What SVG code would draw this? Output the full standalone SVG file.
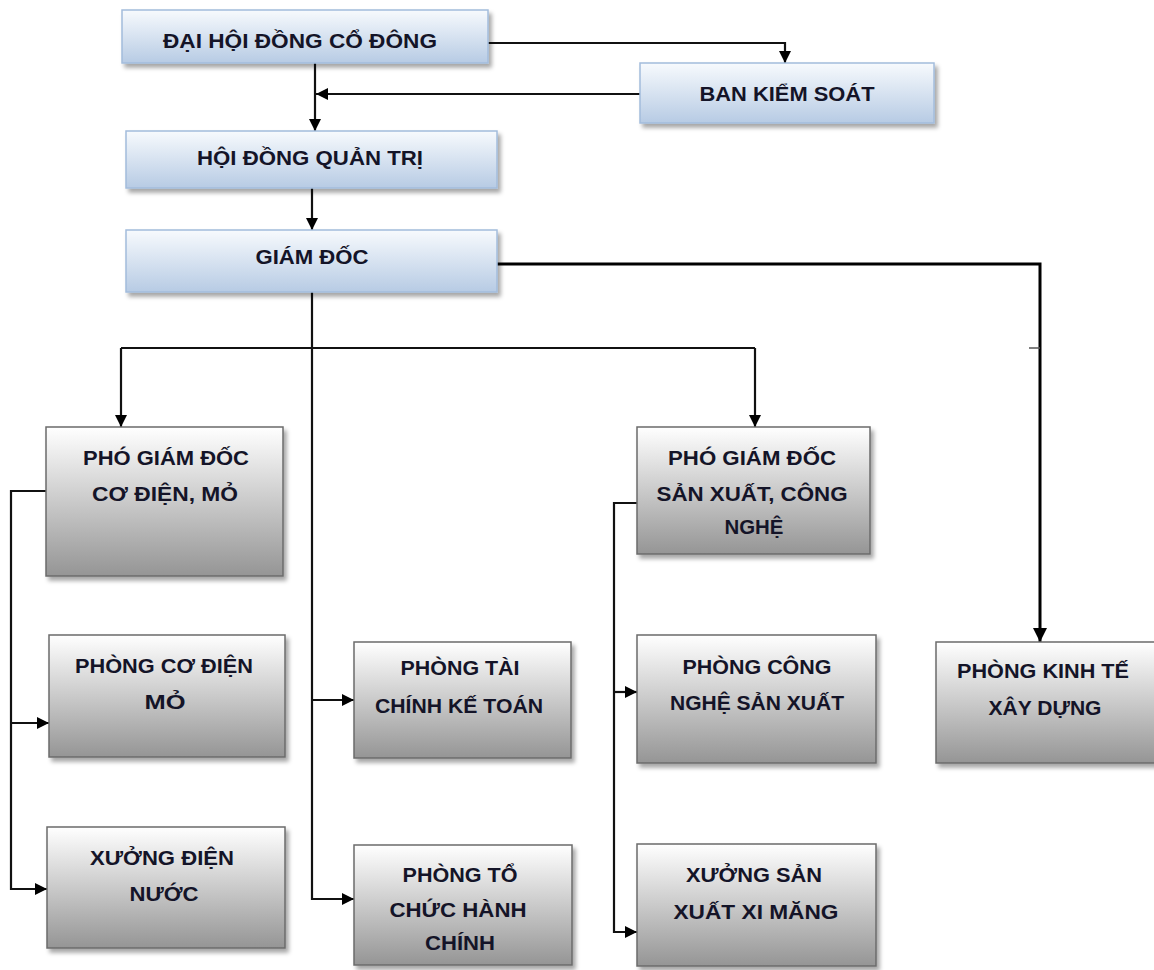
<svg xmlns="http://www.w3.org/2000/svg" width="1154" height="970" viewBox="0 0 1154 970">
<defs>
<linearGradient id="gBlue" x1="0" y1="0" x2="0" y2="1">
<stop offset="0" stop-color="#f7fafd"/>
<stop offset="1" stop-color="#b7cbe4"/>
</linearGradient>
<linearGradient id="gGray" x1="0" y1="0" x2="0" y2="1">
<stop offset="0" stop-color="#ffffff"/>
<stop offset="1" stop-color="#959595"/>
</linearGradient>
<filter id="sh" x="-10%" y="-10%" width="130%" height="140%">
<feDropShadow dx="3" dy="4" stdDeviation="2" flood-color="#000" flood-opacity="0.35"/>
</filter>
<marker id="ah" viewBox="0 0 10 10" refX="10" refY="5" markerWidth="12" markerHeight="12" markerUnits="userSpaceOnUse" orient="auto">
<path d="M0,0 L10,5 L0,10 z" fill="#000"/>
</marker>
<marker id="ahL" viewBox="0 0 10 10" refX="10" refY="5" markerWidth="14" markerHeight="14" markerUnits="userSpaceOnUse" orient="auto">
<path d="M0,0 L10,5 L0,10 z" fill="#000"/>
</marker>
</defs>
<style>
.blue{fill:url(#gBlue);stroke:#a3bcdc;stroke-width:1.5;filter:url(#sh)}
.gray{fill:url(#gGray);stroke:#6b6b6b;stroke-width:1.5;filter:url(#sh)}
.t{font-family:"Liberation Sans",Arial,sans-serif;font-weight:bold;font-size:20px;fill:#141428;text-anchor:middle}
.c{fill:none;stroke:#111;stroke-width:2.2}
.ca{fill:none;stroke:#111;stroke-width:2.2;marker-end:url(#ah)}
.cb{fill:none;stroke:#000;stroke-width:3;marker-end:url(#ahL)}
</style>
<rect width="1154" height="970" fill="#fff"/>

<g id="connectors">
<polyline class="ca" points="488,43 785,43 785,63"/>
<polyline class="ca" points="640,94 316,94"/>
<polyline class="ca" points="315,63 315,131"/>
<polyline class="ca" points="312,188 312,230"/>
<polyline class="cb" points="497,264 1040,264 1040,642"/>
<line x1="1029" y1="348" x2="1040" y2="348" stroke="#555" stroke-width="1.5"/>
<polyline class="ca" points="312,292 312,899 354,899"/>
<polyline class="ca" points="312,700 354,700"/>
<polyline class="c" points="121,348 755,348"/>
<polyline class="ca" points="121,348 121,427"/>
<polyline class="ca" points="755,348 755,427"/>
<polyline class="ca" points="46,491 11,491 11,889 47,889"/>
<polyline class="ca" points="11,723 49,723"/>
<polyline class="ca" points="637,503 614,503 614,932 637,932"/>
<polyline class="ca" points="614,692 637,692"/>
</g>

<g id="dhdcd">
<rect class="blue" x="122" y="10" width="366" height="53"/>
<text class="t" x="300" y="48" textLength="274" lengthAdjust="spacingAndGlyphs">ĐẠI HỘI ĐỒNG CỔ ĐÔNG</text>
</g>
<g id="bks">
<rect class="blue" x="640" y="63" width="294" height="60"/>
<text class="t" x="787" y="101" textLength="175" lengthAdjust="spacingAndGlyphs">BAN KIỂM SOÁT</text>
</g>
<g id="hdqt">
<rect class="blue" x="126" y="131" width="371" height="57"/>
<text class="t" x="310" y="165" textLength="226" lengthAdjust="spacingAndGlyphs">HỘI ĐỒNG QUẢN TRỊ</text>
</g>
<g id="gd">
<rect class="blue" x="126" y="230" width="371" height="62"/>
<text class="t" x="312" y="264" textLength="113" lengthAdjust="spacingAndGlyphs">GIÁM ĐỐC</text>
</g>

<g id="pgd-cdm">
<rect class="gray" x="46" y="427" width="237" height="149"/>
<text class="t" x="166" y="465" textLength="166" lengthAdjust="spacingAndGlyphs">PHÓ GIÁM  ĐỐC</text>
<text class="t" x="165" y="501" textLength="146" lengthAdjust="spacingAndGlyphs">CƠ ĐIỆN, MỎ</text>
</g>
<g id="pgd-sxcn">
<rect class="gray" x="637" y="427" width="233" height="127"/>
<text class="t" x="752" y="465" textLength="168" lengthAdjust="spacingAndGlyphs">PHÓ GIÁM  ĐỐC</text>
<text class="t" x="752" y="501" textLength="191" lengthAdjust="spacingAndGlyphs">SẢN XUẤT, CÔNG</text>
<text class="t" x="754" y="534" textLength="59" lengthAdjust="spacingAndGlyphs">NGHỆ</text>
</g>

<g id="p-cdm">
<rect class="gray" x="49" y="635" width="236" height="122"/>
<text class="t" x="164" y="673" textLength="178" lengthAdjust="spacingAndGlyphs">PHÒNG CƠ  ĐIỆN</text>
<text class="t" x="165" y="709" textLength="41" lengthAdjust="spacingAndGlyphs">MỎ</text>
</g>
<g id="p-tckt">
<rect class="gray" x="354" y="642" width="217" height="116"/>
<text class="t" x="460" y="675" textLength="119" lengthAdjust="spacingAndGlyphs">PHÒNG TÀI</text>
<text class="t" x="459" y="713" textLength="168" lengthAdjust="spacingAndGlyphs">CHÍNH KẾ TOÁN</text>
</g>
<g id="p-cnsx">
<rect class="gray" x="637" y="635" width="239" height="128"/>
<text class="t" x="757" y="674" textLength="149" lengthAdjust="spacingAndGlyphs">PHÒNG CÔNG</text>
<text class="t" x="757" y="710" textLength="174" lengthAdjust="spacingAndGlyphs">NGHỆ SẢN XUẤT</text>
</g>
<g id="p-ktxd">
<rect class="gray" x="936" y="642" width="222" height="121"/>
<text class="t" x="1043" y="678" textLength="172" lengthAdjust="spacingAndGlyphs">PHÒNG KINH TẾ</text>
<text class="t" x="1045" y="715" textLength="113" lengthAdjust="spacingAndGlyphs">XÂY DỰNG</text>
</g>

<g id="x-dn">
<rect class="gray" x="47" y="827" width="238" height="121"/>
<text class="t" x="162" y="865" textLength="144" lengthAdjust="spacingAndGlyphs">XƯỞNG ĐIỆN</text>
<text class="t" x="164" y="901" textLength="69" lengthAdjust="spacingAndGlyphs">NƯỚC</text>
</g>
<g id="p-tchc">
<rect class="gray" x="354" y="845" width="218" height="120"/>
<text class="t" x="460" y="882" textLength="115" lengthAdjust="spacingAndGlyphs">PHÒNG TỔ</text>
<text class="t" x="458" y="917" textLength="137" lengthAdjust="spacingAndGlyphs">CHỨC HÀNH</text>
<text class="t" x="460" y="950" textLength="70" lengthAdjust="spacingAndGlyphs">CHÍNH</text>
</g>
<g id="x-sxxm">
<rect class="gray" x="637" y="844" width="239" height="122"/>
<text class="t" x="754" y="882" textLength="136" lengthAdjust="spacingAndGlyphs">XƯỞNG SẢN</text>
<text class="t" x="756" y="919" textLength="165" lengthAdjust="spacingAndGlyphs">XUẤT XI MĂNG</text>
</g>
</svg>
